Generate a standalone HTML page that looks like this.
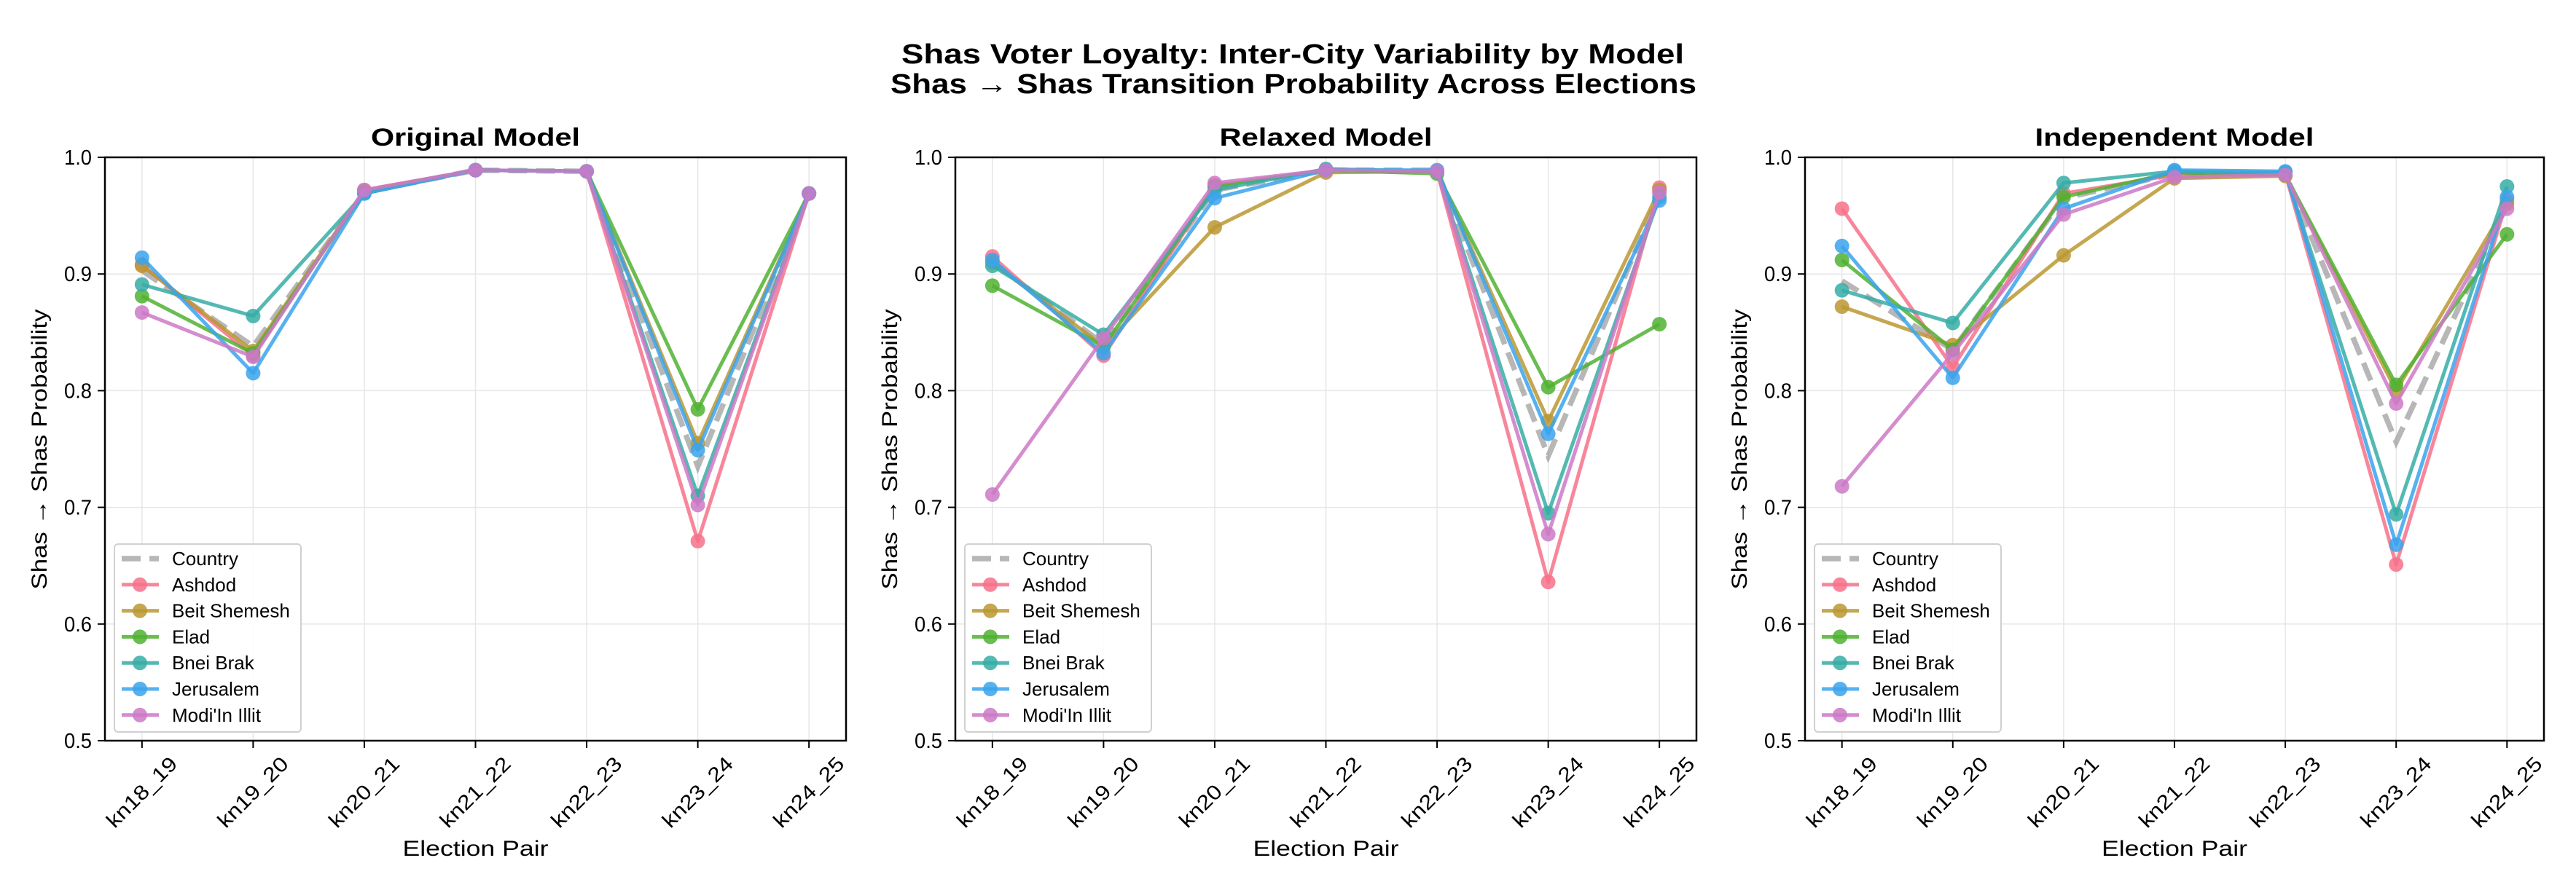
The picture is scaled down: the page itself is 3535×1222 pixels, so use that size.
<!DOCTYPE html>
<html><head><meta charset="utf-8"><style>
html,body{margin:0;padding:0;background:#fff;}
svg{display:block;font-family:"Liberation Sans","DejaVu Sans",sans-serif;}
</style></head><body>
<svg id="chart" width="3535" height="1222" viewBox="0 0 3535 1222">
<text x="1774" y="87" font-size="38" font-weight="bold" text-anchor="middle" textLength="1074" lengthAdjust="spacingAndGlyphs">Shas Voter Loyalty: Inter-City Variability by Model</text>
<text x="1775" y="128" font-size="38" font-weight="bold" text-anchor="middle" textLength="1106" lengthAdjust="spacingAndGlyphs">Shas → Shas Transition Probability Across Elections</text>
</svg>
<script>
const categories = ["kn18_19","kn19_20","kn20_21","kn21_22","kn22_23","kn23_24","kn24_25"];
const yTicks = [0.5,0.6,0.7,0.8,0.9,1.0];
const yTickLabels = ["0.5","0.6","0.7","0.8","0.9","1.0"];
const seriesNames = ["Country","Ashdod","Beit Shemesh","Elad","Bnei Brak","Jerusalem","Modi'In Illit"];
const modelTitles = ["Original Model","Relaxed Model","Independent Model"];

const origCountry   = [0.903,0.838,0.970,0.989,0.988,0.735,0.969];
const origAshdod    = [0.908,0.830,0.972,0.989,0.988,0.671,0.969];
const origBeit      = [0.907,0.834,0.971,0.989,0.988,0.755,0.969];
const origElad      = [0.881,0.832,0.970,0.989,0.988,0.784,0.969];
const origBnei      = [0.891,0.864,0.969,0.989,0.988,0.710,0.969];
const origJeru      = [0.914,0.815,0.969,0.989,0.988,0.749,0.969];
const origModiin    = [0.867,0.829,0.972,0.989,0.988,0.702,0.969];

const relCountry    = [0.910,0.840,0.972,0.989,0.989,0.744,0.968];
const relAshdod     = [0.915,0.830,0.976,0.989,0.988,0.636,0.974];
const relBeit       = [0.910,0.838,0.940,0.987,0.988,0.774,0.972];
const relElad       = [0.890,0.838,0.975,0.989,0.986,0.803,0.857];
const relBnei       = [0.907,0.848,0.972,0.990,0.988,0.695,0.966];
const relJeru       = [0.912,0.832,0.965,0.989,0.989,0.763,0.963];
const relModiin     = [0.711,0.845,0.978,0.989,0.988,0.677,0.970];

const indCountry    = [0.894,0.835,0.965,0.986,0.986,0.756,0.960];
const indAshdod     = [0.956,0.820,0.969,0.985,0.986,0.651,0.963];
const indBeit       = [0.872,0.839,0.916,0.982,0.984,0.800,0.960];
const indElad       = [0.912,0.835,0.966,0.987,0.985,0.805,0.934];
const indBnei       = [0.886,0.858,0.978,0.988,0.987,0.694,0.975];
const indJeru       = [0.924,0.811,0.956,0.989,0.988,0.668,0.966];
const indModiin     = [0.718,0.832,0.951,0.983,0.985,0.789,0.956];

const modelData = [
  [origCountry,origAshdod,origBeit,origElad,origBnei,origJeru,origModiin],
  [relCountry,relAshdod,relBeit,relElad,relBnei,relJeru,relModiin],
  [indCountry,indAshdod,indBeit,indElad,indBnei,indJeru,indModiin]
];
const colors = ["#999999","#f77189","#bb9832","#50b131","#36ada4","#3ba3ec","#cc79c5"];
const panels = [{l:144,r:1161,tl:287},{l:1311,r:2328,tl:292},{l:2477,r:3491,tl:383}];
const TOP=216, BOT=1017, YMIN=0.5, YMAX=1.0;
const NS="http://www.w3.org/2000/svg";
const svg=document.getElementById('chart');
function mk(tag,attrs,parent){const e=document.createElementNS(NS,tag);for(const k in attrs)e.setAttribute(k,attrs[k]);(parent||svg).appendChild(e);return e;}
function slug(s){return s.toLowerCase().replace(/[^a-z0-9]+/g,'-').replace(/-$/,'');}

panels.forEach((p,pi)=>{
  const g=mk('g',{});
  
  
  const w=p.r-p.l, pad=w*0.05, step=(w-2*pad)/(categories.length-1);
  const xs=i=>p.l+pad+i*step;
  const ys=v=>BOT-(v-YMIN)/(YMAX-YMIN)*(BOT-TOP);
  yTicks.forEach((t,i)=>{
    const gl=mk('line',{x1:p.l,x2:p.r,y1:ys(t),y2:ys(t),stroke:'#e6e6e6','stroke-width':1.5},g);
    
    
    const tk=mk('line',{x1:p.l-10,x2:p.l,y1:ys(t),y2:ys(t),stroke:'#000','stroke-width':2},g);
    
    
    const tl=mk('text',{x:p.l-18,y:ys(t)+10,'font-size':29,'text-anchor':'end',textLength:38,lengthAdjust:'spacingAndGlyphs'},g);
    tl.textContent=yTickLabels[i];
    
    
  });
  categories.forEach((c,i)=>{
    const gl=mk('line',{x1:xs(i),x2:xs(i),y1:TOP,y2:BOT,stroke:'#e6e6e6','stroke-width':1.5},g);
    
    
    const tk=mk('line',{x1:xs(i),x2:xs(i),y1:BOT,y2:BOT+10,stroke:'#000','stroke-width':2},g);
    
    
    const cx=xs(i), cy=1088;
    const tl=mk('text',{x:cx,y:cy+9,'font-size':28,'text-anchor':'middle',textLength:124,lengthAdjust:'spacingAndGlyphs',transform:`rotate(-45 ${cx} ${cy})`},g);
    tl.textContent=c;
    
    
  });
  modelData[pi].forEach((vals,si)=>{
    const sg=mk('g',{},g);
    
    
    const pts=vals.map((v,i)=>xs(i)+','+ys(v)).join(' ');
    if(si===0){
      const pl=mk('polyline',{points:pts,fill:'none',stroke:colors[0],'stroke-width':7.5,'stroke-dasharray':'26 12','stroke-opacity':0.7},sg);
      
      
    } else {
      const pl=mk('polyline',{points:pts,fill:'none',stroke:colors[si],'stroke-width':5,'stroke-opacity':0.85,'stroke-linejoin':'round'},sg);
      
      
      vals.forEach((v,i)=>{
        const m=mk('circle',{cx:xs(i),cy:ys(v),r:10,fill:colors[si],'fill-opacity':0.85},sg);
        
        
      });
    }
  });
  const fr=mk('rect',{x:p.l,y:TOP,width:w,height:BOT-TOP,fill:'none',stroke:'#000','stroke-width':2.5},g);
  
  
  const cxm=(p.l+p.r)/2;
  const tt=mk('text',{x:cxm,y:200,'font-size':34,'font-weight':'bold','text-anchor':'middle',textLength:p.tl,lengthAdjust:'spacingAndGlyphs'},g);
  tt.textContent=modelTitles[pi];
  
  
  const xl=mk('text',{x:cxm,y:1175,'font-size':30,'text-anchor':'middle',textLength:200,lengthAdjust:'spacingAndGlyphs'},g);
  xl.textContent='Election Pair';
  
  
  const yx=p.l-80, yy=617;
  const yl=mk('text',{x:yx,y:yy,'font-size':30,'text-anchor':'middle',textLength:385,lengthAdjust:'spacingAndGlyphs',transform:`rotate(-90 ${yx} ${yy})`},g);
  yl.textContent='Shas → Shas Probability';
  
  
  const lg=mk('g',{},g);
  
  
  const lx=p.l+13;
  mk('rect',{x:lx,y:747,width:256,height:258,rx:5,fill:'#fff','fill-opacity':0.85,stroke:'#d0d0d0','stroke-width':2},lg);
  seriesNames.forEach((n,si)=>{
    const ey=767+si*35.8;
    const eg=mk('g',{},lg);
    
    
    if(si===0){
      mk('line',{x1:lx+10,x2:lx+61,y1:ey,y2:ey,stroke:colors[0],'stroke-width':7.5,'stroke-dasharray':'26 12','stroke-opacity':0.7},eg);
    } else {
      mk('line',{x1:lx+10,x2:lx+61,y1:ey,y2:ey,stroke:colors[si],'stroke-width':5,'stroke-opacity':0.85},eg);
      mk('circle',{cx:lx+35,cy:ey,r:10,fill:colors[si],'fill-opacity':0.85},eg);
    }
    const t=mk('text',{x:lx+79,y:ey+9,'font-size':26},eg);
    t.textContent=n;
  });
});
</script>
</body></html>
